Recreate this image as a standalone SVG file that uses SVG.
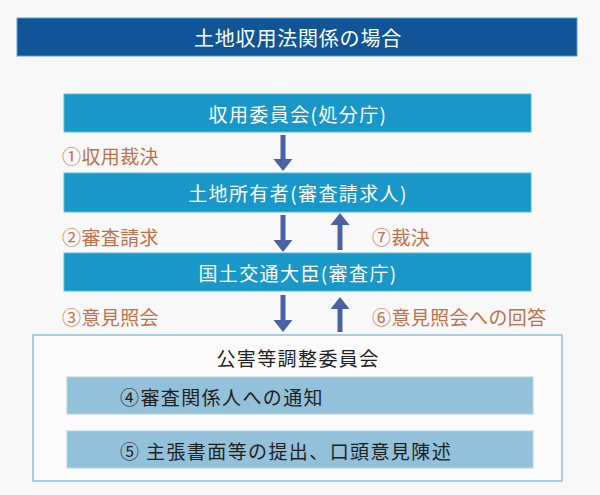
<svg xmlns="http://www.w3.org/2000/svg" width="600" height="495" viewBox="0 0 600 495">
<defs>
<style>
text{font-family:"Noto Sans CJK JP","Noto Sans CJK SC",sans-serif;dominant-baseline:central;font-weight:400}
.title{fill:#0f5597;stroke:#5d9fd2;stroke-width:1}
.box{fill:#1a97c9;stroke:#5cb8de;stroke-width:1}
.sub{fill:#93c1d9;stroke:#b4d6e6;stroke-width:1}
.wt{fill:#ffffff;font-size:19px;letter-spacing:1.4px;text-anchor:middle}
.tt{font-size:20px;letter-spacing:0.8px}
.bk{fill:#1e1e1e;font-size:19px;letter-spacing:1.4px}
.lbl{fill:#c0704a;font-size:19px;letter-spacing:0.4px}
.arr{fill:#4b62a2}
</style>
</defs>
<rect x="0" y="0" width="600" height="495" fill="#f8f8f8"/>
<g id="title">
<rect class="title" x="17" y="18" width="560" height="38"/>
<text class="wt tt" x="298" y="37">土地収用法関係の場合</text>
</g>
<g id="node-shuyo">
<rect class="box" x="64" y="94" width="467" height="38"/>
<text class="wt" x="298" y="113">収用委員会(処分庁)</text>
</g>
<g id="node-tochi">
<rect class="box" x="64" y="173" width="467" height="39"/>
<text class="wt" x="298" y="192">土地所有者(審査請求人)</text>
</g>
<g id="node-kokudo">
<rect class="box" x="64" y="253" width="467" height="38"/>
<text class="wt" x="298" y="272">国土交通大臣(審査庁)</text>
</g>
<g id="node-kogai">
<rect x="33" y="335" width="529" height="146" fill="#fbfbfb" stroke="#a9cee0" stroke-width="2"/>
<text class="bk" x="298" y="357" text-anchor="middle">公害等調整委員会</text>
<g id="step4">
<rect class="sub" x="67" y="377" width="466" height="37"/>
<text class="bk" x="120" y="396">④審査関係人への通知</text>
</g>
<g id="step5">
<rect class="sub" x="67" y="431" width="466" height="37"/>
<text class="bk" x="120" y="450">⑤ 主張書面等の提出、口頭意見陳述</text>
</g>
</g>
<g id="connectors">
<path class="arr" d="M280.5,135 h5 v24 h7 l-9.5,12 l-9.5,-12 h7 z"/>
<path class="arr" d="M280.5,215 h5 v25 h7 l-9.5,12 l-9.5,-12 h7 z"/>
<path class="arr" d="M337.5,250 h5 v-25 h7 l-9.5,-12 l-9.5,12 h7 z"/>
<path class="arr" d="M280.5,295 h5 v25 h7 l-9.5,12 l-9.5,-12 h7 z"/>
<path class="arr" d="M337.5,332 h5 v-23 h7 l-9.5,-12 l-9.5,12 h7 z"/>
<text class="lbl" x="62" y="155">①収用裁決</text>
<text class="lbl" x="62" y="236">②審査請求</text>
<text class="lbl" x="372" y="236">⑦裁決</text>
<text class="lbl" x="62" y="316">③意見照会</text>
<text class="lbl" x="372" y="316">⑥意見照会への回答</text>
</g>
</svg>
